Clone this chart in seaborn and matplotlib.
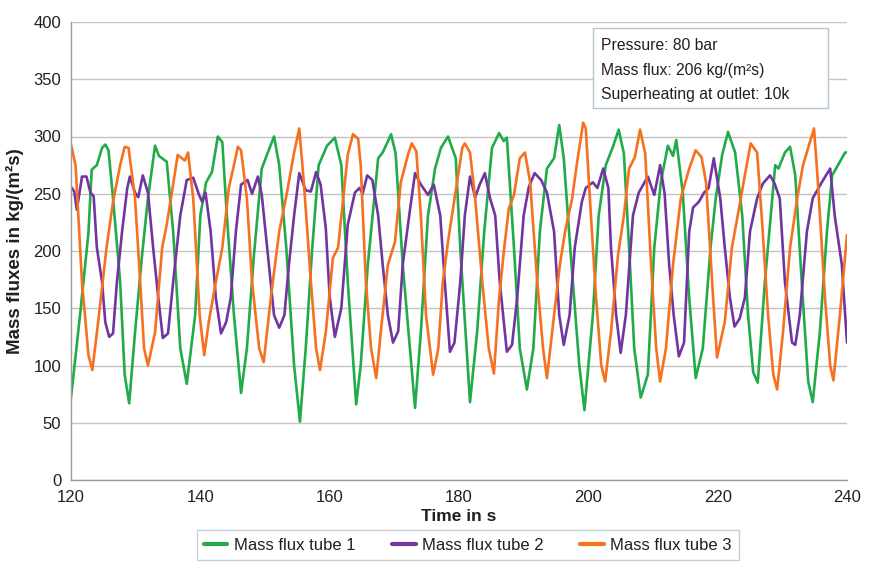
import matplotlib
matplotlib.use("Agg")
import matplotlib.pyplot as plt
from matplotlib.patches import Rectangle
import seaborn as sns

# values (time in s, mass flux in kg/(m²s))
green_t = [120.0, 121.4, 122.7, 123.2, 124.0, 124.8, 125.3, 125.8, 126.5, 127.6, 128.3, 129.0,
           129.9, 131.0, 131.9, 133.0, 133.6, 134.8, 135.8, 136.9, 137.9, 139.2, 140.0, 140.9,
           141.8, 142.7, 143.4, 144.1, 145.2, 146.3, 147.2, 148.3, 149.5, 150.3, 151.4, 152.2,
           153.3, 154.5, 155.4, 156.3, 157.3, 158.3, 159.6, 160.8, 161.8, 162.8, 164.1, 164.8,
           165.9, 167.5, 168.2, 169.5, 170.2, 171.3, 173.2, 174.1, 175.2, 176.3, 177.2, 178.3,
           179.5, 180.2, 181.7, 182.8, 183.9, 185.1, 186.2, 186.9, 187.4, 188.5, 189.4, 190.5,
           191.5, 192.5, 193.6, 194.7, 195.5, 196.2, 197.2, 198.6, 199.4, 200.7, 201.6, 202.7,
           203.8, 204.7, 205.5, 206.3, 207.1, 208.1, 209.2, 210.2, 211.2, 212.3, 213.1, 213.6,
           214.6, 215.6, 216.6, 217.7, 218.9, 219.7, 220.7, 221.6, 222.7, 223.8, 224.7, 225.5,
           226.2, 227.3, 228.9, 229.4, 230.4, 231.2, 232.0, 233.0, 234.0, 234.7, 235.8, 236.9,
           237.7, 238.6, 239.7, 240.0]
green_v = [72, 144, 216, 271, 275, 290, 293, 288, 246, 173, 92, 67,
           129, 197, 246, 292, 283, 278, 217, 115, 84, 144, 231, 260,
           269, 300, 295, 231, 144, 76, 115, 197, 272, 284, 300, 275,
           202, 100, 51, 115, 202, 275, 292, 299, 275, 173, 66, 100,
           188, 281, 286, 302, 285, 188, 63, 129, 231, 272, 290, 300,
           281, 202, 68, 129, 217, 290, 303, 296, 299, 203, 115, 79,
           115, 217, 272, 281, 310, 281, 203, 100, 61, 144, 231, 275,
           291, 306, 285, 203, 115, 72, 92, 203, 260, 292, 283, 297,
           251, 159, 89, 115, 203, 246, 284, 304, 286, 231, 144, 94,
           85, 173, 275, 272, 286, 291, 266, 173, 86, 68, 129, 217,
           266, 275, 286, 286]

purple_t = [120.0, 120.5, 120.9, 121.7, 122.4, 123.0, 123.5, 124.0, 124.8, 125.3, 125.9, 126.5,
            127.1, 127.9, 128.7, 129.1, 129.9, 130.4, 131.1, 131.9, 132.7, 133.5, 134.2, 135.0,
            135.8, 136.9, 137.9, 138.9, 139.8, 140.3, 140.8, 141.6, 142.4, 143.2, 144.0, 144.7,
            145.5, 146.3, 147.3, 148.0, 148.9, 149.5, 150.6, 151.4, 152.2, 153.0, 153.7, 154.5,
            155.3, 156.3, 157.1, 157.9, 158.6, 159.4, 160.0, 160.8, 161.8, 162.8, 163.9, 164.6,
            165.1, 165.8, 166.6, 167.5, 168.2, 169.0, 169.8, 170.6, 171.3, 172.3, 173.2, 174.1,
            175.2, 176.1, 177.1, 177.8, 178.6, 179.3, 180.2, 180.9, 181.7, 182.5, 183.2, 184.0,
            184.8, 185.6, 186.3, 187.4, 188.2, 189.0, 190.0, 190.8, 191.7, 192.7, 193.6, 194.7,
            195.5, 196.2, 197.1, 197.9, 199.0, 199.6, 200.7, 201.4, 202.3, 203.1, 203.5, 204.3,
            205.0, 205.8, 206.9, 207.8, 209.2, 210.2, 211.1, 211.8, 212.5, 213.2, 214.0, 214.8,
            215.6, 216.2, 217.1, 217.9, 218.6, 219.4, 220.4, 221.1, 221.9, 222.6, 223.4, 224.2,
            225.0, 226.1, 227.0, 228.1, 228.8, 229.6, 230.4, 231.5, 232.0, 232.7, 233.8, 234.7,
            236.1, 237.4, 238.1, 239.2, 240.0]
purple_v = [256, 252, 236, 265, 265, 251, 248, 203, 173, 138, 125, 128,
            173, 217, 255, 265, 251, 247, 266, 251, 203, 159, 124, 128,
            173, 231, 262, 264, 249, 243, 251, 217, 159, 128, 138, 159,
            217, 258, 262, 250, 265, 249, 188, 144, 133, 144, 188, 231,
            268, 253, 252, 269, 258, 220, 160, 125, 150, 223, 251, 255,
            250, 266, 262, 231, 188, 144, 120, 130, 188, 231, 268, 258,
            249, 258, 231, 173, 112, 120, 173, 231, 265, 247, 258, 268,
            246, 231, 173, 112, 118, 159, 231, 256, 268, 262, 251, 217,
            144, 118, 144, 203, 243, 255, 260, 255, 272, 255, 203, 144,
            111, 144, 231, 251, 265, 249, 275, 250, 188, 144, 108, 120,
            217, 238, 243, 251, 255, 281, 246, 203, 159, 134, 141, 159,
            217, 246, 259, 266, 259, 246, 173, 120, 118, 144, 217, 246,
            260, 272, 231, 188, 120]

orange_t = [120.0, 120.7, 121.7, 122.7, 123.3, 124.2, 125.5, 126.5, 127.6, 128.3, 128.9, 129.9,
            130.7, 131.3, 131.9, 133.0, 134.1, 134.8, 135.6, 136.5, 137.6, 138.1, 138.9, 139.9,
            140.6, 141.3, 142.4, 143.4, 144.4, 145.2, 145.8, 146.3, 147.2, 148.0, 149.1, 149.8,
            150.9, 152.2, 153.4, 154.5, 155.3, 156.0, 157.1, 157.9, 158.5, 159.4, 160.5, 161.3,
            162.1, 162.8, 163.6, 164.4, 164.8, 165.6, 166.4, 167.2, 167.9, 169.0, 170.1, 171.0,
            172.1, 172.7, 173.4, 174.1, 174.9, 176.0, 176.8, 177.5, 178.3, 179.1, 179.7, 180.5,
            180.9, 181.7, 182.5, 183.6, 184.6, 185.4, 186.2, 187.0, 187.7, 188.5, 189.4, 190.2,
            191.0, 192.1, 193.0, 193.6, 194.7, 195.6, 196.4, 197.5, 198.2, 199.2, 199.6, 200.4,
            201.2, 202.0, 202.6, 203.5, 204.6, 205.5, 206.3, 207.2, 208.0, 208.8, 209.7, 210.5,
            211.1, 212.0, 213.1, 214.3, 215.6, 216.6, 217.5, 218.2, 219.3, 219.9, 221.1, 222.2,
            223.1, 224.2, 225.1, 226.1, 226.8, 227.8, 228.6, 229.2, 230.1, 231.2, 232.3, 233.2,
            234.0, 234.9, 235.5, 236.6, 237.4, 237.9, 238.9, 240.0]
orange_v = [293, 275, 173, 109, 96, 138, 203, 243, 275, 291, 290, 246,
            173, 115, 100, 129, 203, 223, 251, 284, 279, 286, 246, 144,
            109, 138, 173, 203, 255, 275, 291, 288, 246, 173, 115, 103,
            159, 217, 251, 286, 307, 260, 173, 115, 96, 129, 194, 203,
            246, 284, 302, 298, 275, 173, 115, 89, 129, 188, 208, 260,
            284, 294, 287, 231, 144, 92, 115, 173, 208, 238, 260, 290,
            294, 286, 246, 173, 115, 93, 159, 203, 237, 249, 281, 286,
            260, 173, 115, 89, 144, 188, 217, 246, 275, 312, 307, 231,
            159, 100, 86, 129, 197, 231, 272, 282, 306, 285, 188, 115,
            86, 115, 188, 246, 272, 288, 282, 260, 159, 107, 138, 203,
            231, 266, 294, 286, 231, 144, 92, 79, 129, 203, 246, 275,
            290, 307, 260, 159, 100, 87, 144, 214]

series_names = ["Mass flux tube 1", "Mass flux tube 2", "Mass flux tube 3"]
series_colors = ["#22ab4a", "#7135a1", "#f5711f"]
x_ticks = [120, 140, 160, 180, 200, 220, 240]
y_ticks = [0, 50, 100, 150, 200, 250, 300, 350, 400]
info_lines = ["Pressure: 80 bar", "Mass flux: 206 kg/(m²s)", "Superheating at outlet: 10k"]


def main():
    sns.set_style("white")
    plt.rcParams["font.family"] = ["Liberation Sans", "DejaVu Sans"]
    text_col = "#231f20"
    grid_col = "#c3c3c3"

    fig = plt.figure(figsize=(8.76, 5.71), dpi=100)
    ax = fig.add_axes([71 / 876, 1 - 480 / 571, 776 / 876, 458 / 571])

    data = [(green_t, green_v), (purple_t, purple_v), (orange_t, orange_v)]
    for (t, v), name, col in zip(data, series_names, series_colors):
        sns.lineplot(x=t, y=v, color=col, label=name, linewidth=1.9, ax=ax, sort=False,
                     solid_joinstyle="round", solid_capstyle="round")

    ax.set_xlim(120, 240)
    ax.set_ylim(0, 400)
    ax.set_xticks(x_ticks)
    ax.set_yticks(y_ticks)
    ax.yaxis.grid(True, color=grid_col, linewidth=1.0)
    ax.xaxis.grid(False)
    ax.set_axisbelow(True)
    for side in ["top", "right"]:
        ax.spines[side].set_visible(False)
    for side in ["left", "bottom"]:
        ax.spines[side].set_color("#9a9a9a")
        ax.spines[side].set_linewidth(1.0)
    ax.tick_params(axis="both", direction="out", length=5, width=1, color="#9a9a9a",
                   labelsize=12, labelcolor=text_col, pad=2)

    ax.set_xlabel("Time in s", fontsize=12.5, fontweight="bold", color=text_col, labelpad=3)
    ax.set_ylabel("Mass fluxes in kg/(m²s)", fontsize=13.5, fontweight="bold", color=text_col, labelpad=7)

    ax.get_legend().remove()
    handles, labels = ax.get_legend_handles_labels()
    leg = fig.legend(handles, labels, loc="center", bbox_to_anchor=(468 / 876, 1 - 545 / 571),
                     ncol=3, frameon=True, fancybox=False, fontsize=12, handlelength=1.4,
                     handletextpad=0.4, columnspacing=2.2, borderpad=0.45)
    leg.get_frame().set_edgecolor("#b9c3cc")
    leg.get_frame().set_linewidth(1.0)
    for txt in leg.get_texts():
        txt.set_color(text_col)
    for line in leg.get_lines():
        line.set_linewidth(3.0)

    # info box top right
    box = Rectangle((593 / 876, 1 - 108 / 571), 235 / 876, 80 / 571, transform=fig.transFigure,
                    facecolor="white", edgecolor="#b3c4d3", linewidth=1.0, zorder=5)
    fig.add_artist(box)
    for i, line in enumerate(info_lines):
        fig.text(601 / 876, 1 - (45 + 25 * i) / 571, line, fontsize=11.3, color=text_col,
                 va="center", ha="left", zorder=6)

    fig.savefig("out.png", dpi=100, facecolor="white")
    plt.close(fig)


if __name__ == "__main__":
    main()
